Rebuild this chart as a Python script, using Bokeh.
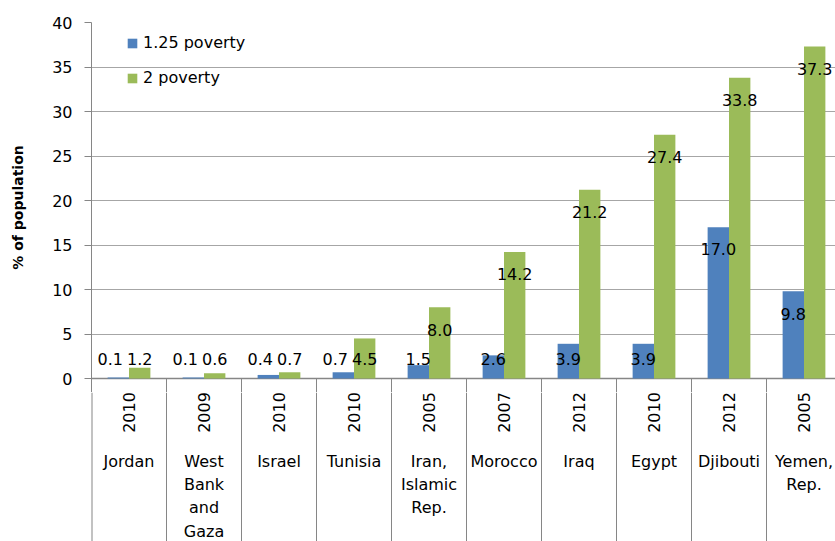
import numpy as np
from bokeh.plotting import figure
from bokeh.layouts import column
from bokeh.models import Range1d, FixedTicker, Legend, LegendItem, ColumnDataSource
from bokeh.core.properties import value
from bokeh.embed import file_html
from bokeh.resources import INLINE

# ---- data ----
countries = ["Jordan", "West\nBank\nand\nGaza", "Israel", "Tunisia", "Iran,\nIslamic\nRep.",
             "Morocco", "Iraq", "Egypt", "Djibouti", "Yemen,\nRep."]
years = ["2010", "2009", "2010", "2010", "2005", "2007", "2012", "2010", "2012", "2005"]
poverty_125 = [0.1, 0.1, 0.4, 0.7, 1.5, 2.6, 3.9, 3.9, 17.0, 9.8]
poverty_2 = [1.2, 0.6, 0.7, 4.5, 8.0, 14.2, 21.2, 27.4, 33.8, 37.3]
y_ticks = [0, 5, 10, 15, 20, 25, 30, 35, 40]

# ---- layout constants ----
FONT = "DejaVu Sans"
BLUE = "#4F81BD"
GREEN = "#9BBB59"
AXIS_C = "#868686"
GRID_C = "#a6a6a6"
W = 835
HA, HB = 392, 149          # bar panel / category-label panel
BL, BT = 91, 22
PX_PER_CAT = 75.0
PX_PER_UNIT = 8.9
frame_w = W - BL
frame_hA = HA - BT
x_end = frame_w / PX_PER_CAT
y_top = 40
y_bottom = y_top - frame_hA / PX_PER_UNIT
BAR_W = 0.285
LABEL_DROP = 2.5
LABEL_FLOOR = 2.2
YEAR_Y = -20      # px below the top of the label panel
COUNTRY_Y = -59

n = len(countries)
idx = np.arange(n) + 0.5
v1 = np.array(poverty_125)
v2 = np.array(poverty_2)

xr = Range1d(0, x_end)

# ================= bar panel =================
p = figure(width=W, height=HA, output_backend="svg", toolbar_location=None,
           x_range=xr, y_range=Range1d(y_bottom, y_top), x_axis_location=None,
           min_border_left=BL, min_border_top=BT, min_border_right=0, min_border_bottom=0)
p.outline_line_color = None
p.background_fill_color = "white"
p.border_fill_color = "white"
p.xgrid.visible = False

p.ygrid.ticker = FixedTicker(ticks=y_ticks)
p.ygrid.grid_line_color = GRID_C
p.ygrid.grid_line_width = 1

yax = p.yaxis[0]
yax.ticker = FixedTicker(ticks=y_ticks)
yax.axis_line_color = AXIS_C
yax.major_tick_line_color = AXIS_C
yax.major_tick_out = 7
yax.major_tick_in = 0
yax.minor_tick_out = 0
yax.minor_tick_in = 0
yax.major_label_standoff = 12
yax.major_label_text_font = FONT
yax.major_label_text_font_size = "16px"
yax.major_label_text_color = "black"
yax.axis_label = "% of population"
yax.axis_label_text_font = FONT
yax.axis_label_text_font_style = "bold"
yax.axis_label_text_font_size = "14px"
yax.axis_label_text_color = "black"
yax.axis_label_standoff = 23

# x axis baseline at zero
p.segment(x0=[0], y0=[0], x1=[x_end], y1=[0], line_color=AXIS_C, line_width=1.5)

# category separators (upper part)
bounds_a = np.arange(1, n + 1)
p.segment(x0=bounds_a, y0=np.zeros(n), x1=bounds_a, y1=np.full(n, y_bottom),
          line_color=AXIS_C, line_width=1)

# bars
r1 = p.vbar(x=idx - BAR_W / 2, top=v1, bottom=0, width=BAR_W, fill_color=BLUE, line_color=None)
r2 = p.vbar(x=idx + BAR_W / 2, top=v2, bottom=0, width=BAR_W, fill_color=GREEN, line_color=None)

# data labels (inside end, pushed up when bar is short; nudge left when both collide)
def lab_y(v):
    return np.maximum(v - LABEL_DROP, LABEL_FLOOR)

both_floor = (v2 - LABEL_DROP) <= LABEL_FLOOR
src_l = ColumnDataSource(dict(
    x=np.concatenate([idx - BAR_W / 2, idx + BAR_W / 2]),
    y=np.concatenate([lab_y(v1), lab_y(v2)]),
    dx=np.concatenate([np.where(both_floor, -8, 0), np.zeros(n)]),
    t=["%.1f" % v for v in poverty_125] + ["%.1f" % v for v in poverty_2]))
p.text(x="x", y="y", text="t", x_offset="dx", source=src_l, text_font=value(FONT),
       text_font_size="16px", text_align="center", text_baseline="middle", text_color="black")

# legend
GH = 12
LH = 20
legend = Legend(items=[LegendItem(label="1.25 poverty", renderers=[r1]),
                       LegendItem(label="2 poverty", renderers=[r2])],
                location=(35, frame_hA - 10.8 - (LH * 2 + 15)),
                glyph_width=GH, glyph_height=GH, label_height=LH, spacing=15,
                padding=0, margin=0, label_standoff=5,
                label_text_font=FONT, label_text_font_size="16px", label_text_color="black",
                border_line_color=None, background_fill_alpha=0)
p.add_layout(legend)

# ================= category label panel =================
q = figure(width=W, height=HB, output_backend="svg", toolbar_location=None,
           x_range=xr, y_range=Range1d(-HB, 0), x_axis_location=None, y_axis_location=None,
           min_border_left=BL, min_border_top=0, min_border_right=0, min_border_bottom=0)
q.outline_line_color = None
q.background_fill_color = "white"
q.border_fill_color = "white"
q.grid.visible = False

# category separators (incl. continuation of the y axis at x=0)
bounds = np.arange(0, n + 1)
q.segment(x0=bounds, y0=np.zeros(n + 1), x1=bounds, y1=np.full(n + 1, -HB),
          line_color=AXIS_C, line_width=np.where(bounds == 0, 2, 1))

# year labels (rotated)
q.text(x=idx, y=np.full(n, YEAR_Y), text=years, angle=np.pi / 2,
       text_font=value(FONT), text_font_size="16px", text_align="center",
       text_baseline="middle", text_color="black")

# country labels
q.text(x=idx, y=np.full(n, COUNTRY_Y), text=countries,
       text_font=value(FONT), text_font_size="16px", text_align="center",
       text_baseline="top", text_color="black", text_line_height=1.23)

layout = column(p, q, spacing=0)
open("out.html", "w").write(file_html(layout, INLINE))
